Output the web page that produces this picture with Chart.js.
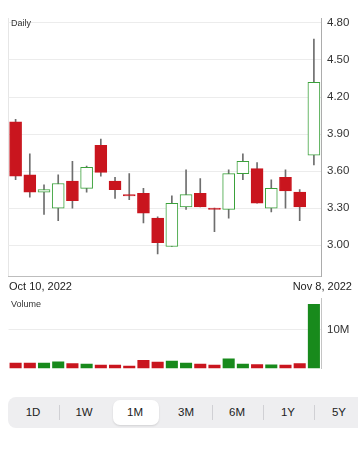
<!DOCTYPE html>
<html><head><meta charset="utf-8">
<script src="https://cdn.jsdelivr.net/npm/chart.js@4.4.0/dist/chart.umd.min.js"></script>
<style>
html,body{margin:0;padding:0;background:#fff;width:358px;height:450px;overflow:hidden;font-family:"Liberation Sans",Arial,sans-serif;color:#222}
#wrap{position:relative;width:358px;height:450px;overflow:hidden}
canvas{position:absolute;left:0}
.lbl{position:absolute;white-space:nowrap;line-height:1}
#seg{position:absolute;left:8px;top:397px;width:370px;height:31px;background:#eeeef0;border-radius:8px}
.pill{position:absolute;left:113px;top:400px;width:46px;height:25px;background:#fff;border-radius:7px;box-shadow:0 1px 2px rgba(0,0,0,0.12)}
.btn{position:absolute;top:397px;height:31px;width:51px;text-align:center;line-height:31px;font-size:11.5px;color:#222}
.div{position:absolute;top:405px;height:15px;width:1px;background:#d0d0d4}
</style></head><body>
<div id="wrap">
<canvas id="price" width="358" height="280" style="top:0;width:358px;height:280px"></canvas>
<canvas id="vol" width="358" height="82" style="top:290px;width:358px;height:82px"></canvas>
</div>
<script>
const categories = ['Oct 10','Oct 11','Oct 12','Oct 13','Oct 14','Oct 17','Oct 18','Oct 19','Oct 20','Oct 21','Oct 24','Oct 25','Oct 26','Oct 27','Oct 28','Oct 31','Nov 1','Nov 2','Nov 3','Nov 4','Nov 7','Nov 8'];
const openP  = [4.00, 3.57, 3.43, 3.30, 3.52, 3.46, 3.81, 3.52, 3.41, 3.42, 3.22, 2.99, 3.31, 3.42, 3.30, 3.29, 3.58, 3.62, 3.30, 3.55, 3.43, 3.73];
const highP  = [4.02, 3.74, 3.49, 3.57, 3.68, 3.64, 3.86, 3.55, 3.58, 3.46, 3.23, 3.40, 3.61, 3.54, 3.30, 3.61, 3.74, 3.67, 3.53, 3.61, 3.45, 4.67];
const lowP   = [3.53, 3.39, 3.25, 3.20, 3.30, 3.43, 3.56, 3.38, 3.37, 3.18, 2.93, 2.99, 3.29, 3.31, 3.11, 3.22, 3.53, 3.34, 3.27, 3.30, 3.20, 3.65];
const closeP = [3.56, 3.43, 3.45, 3.50, 3.36, 3.63, 3.59, 3.45, 3.40, 3.26, 3.02, 3.34, 3.41, 3.31, 3.29, 3.58, 3.68, 3.34, 3.46, 3.44, 3.31, 4.32];
const volumeM = [1.45, 1.45, 1.45, 1.78, 1.35, 1.20, 0.94, 0.94, 0.69, 2.20, 1.70, 1.95, 1.45, 1.20, 0.94, 2.54, 1.20, 1.10, 1.00, 0.94, 1.35, 16.45];
const priceTicks = [3.00, 3.30, 3.60, 3.90, 4.20, 4.50, 4.80];
const volumeTicks = [10];
const rangeLabels = ['Oct 10, 2022', 'Nov 8, 2022'];
const panelLabels = ['Daily', 'Volume'];
const periods = ['1D','1W','1M','3M','6M','1Y','5Y'];
const selectedPeriod = '1M';

const RED = '#c9151e', GREEN_LINE = '#3aa13a', GREEN_FILL = '#188a1c', WICK = '#6e6e6e';
const FONT = '"Liberation Sans", Arial, sans-serif';
const up = openP.map((o,i) => closeP[i] >= o);

const wrap = document.getElementById('wrap');
function addLabel(text, css){ const d=document.createElement('div'); d.className='lbl'; d.textContent=text; Object.assign(d.style, css); wrap.appendChild(d); return d; }
addLabel(panelLabels[0], {left:'11px', top:'19px', fontSize:'9px', color:'#333'});
addLabel(panelLabels[1], {left:'11px', top:'300px', fontSize:'9px', color:'#333'});
addLabel(rangeLabels[0], {left:'9px', top:'281px', fontSize:'11px', color:'#222'});
addLabel(rangeLabels[1], {right:'6px', top:'281px', fontSize:'11px', color:'#222'});

const seg=document.createElement('div'); seg.id='seg'; wrap.appendChild(seg);
const selIdx = periods.indexOf(selectedPeriod);
const pill=document.createElement('div'); pill.className='pill'; pill.style.left=(7.5+51*selIdx+3.5)+'px'; wrap.appendChild(pill);
periods.forEach((p,i)=>{
  const b=document.createElement('div'); b.className='btn'; b.textContent=p; b.style.left=(7.5+51*i)+'px'; wrap.appendChild(b);
  if(i>0 && i!==selIdx && i!==selIdx+1){ const dv=document.createElement('div'); dv.className='div'; dv.style.left=(7.5+51*i)+'px'; wrap.appendChild(dv); }
});

new Chart(document.getElementById('price'), {
  type: 'bar',
  data: {
    labels: categories,
    datasets: [
      { label:'wick', data: lowP.map((l,i)=>[l, highP[i]]), backgroundColor: WICK, barThickness: 1, grouped:false, order: 2, borderWidth:0 },
      { label:'body', data: openP.map((o,i)=>[o, closeP[i]]), backgroundColor: up.map(u=>u?'#ffffff':RED), borderColor: up.map(u=>u?GREEN_LINE:RED), borderWidth: 1, borderSkipped:false, barThickness: 12, grouped:false, order: 1 }
    ]
  },
  options: {
    responsive:false, maintainAspectRatio:false, animation:false,
    layout:{padding:{top:18,bottom:4,left:8.5,right:0}},
    plugins:{legend:{display:false}, tooltip:{enabled:false}},
    scales:{
      x:{ display:true, offset:true,
          grid:{display:true, offset:true, drawTicks:false, color:(c)=> c.index===0 ? '#e6e6e6' : 'rgba(0,0,0,0)'},
          ticks:{display:false}, border:{display:true, color:'#bdbdbd'} },
      y:{ position:'right', min:2.751, max:4.84,
          afterBuildTicks:(s)=>{ s.ticks = priceTicks.map(v=>({value:v})); },
          afterFit:(s)=>{ s.width = 37; s.paddingTop = 0; s.paddingBottom = 0; },
          grid:{color:'#ececec', drawTicks:false},
          border:{display:true, color:'#acacac'},
          ticks:{padding:6, color:'#333', font:{family:FONT, size:11.5}, callback:(v)=>Number(v).toFixed(2)} }
    }
  }
});

new Chart(document.getElementById('vol'), {
  type: 'bar',
  data: {
    labels: categories,
    datasets: [
      { label:'volume', data: volumeM, backgroundColor: up.map(u=>u?GREEN_FILL:RED), borderWidth:0, barPercentage:0.85, categoryPercentage:1 }
    ]
  },
  options: {
    responsive:false, maintainAspectRatio:false, animation:false,
    layout:{padding:{top:8,bottom:3.5,left:8.5,right:0}},
    plugins:{legend:{display:false}, tooltip:{enabled:false}},
    scales:{
      x:{ display:false, offset:true },
      y:{ position:'right', min:0, max:18,
          afterBuildTicks:(s)=>{ s.ticks = volumeTicks.map(v=>({value:v})); },
          afterFit:(s)=>{ s.width = 37; s.paddingTop = 0; s.paddingBottom = 0; },
          grid:{color:'#ececec', drawTicks:false},
          border:{display:true, color:'#c4c4c4'},
          ticks:{padding:6, color:'#333', font:{family:FONT, size:11.5}, callback:(v)=>v+'M'} }
    }
  }
});
</script>
</body></html>
